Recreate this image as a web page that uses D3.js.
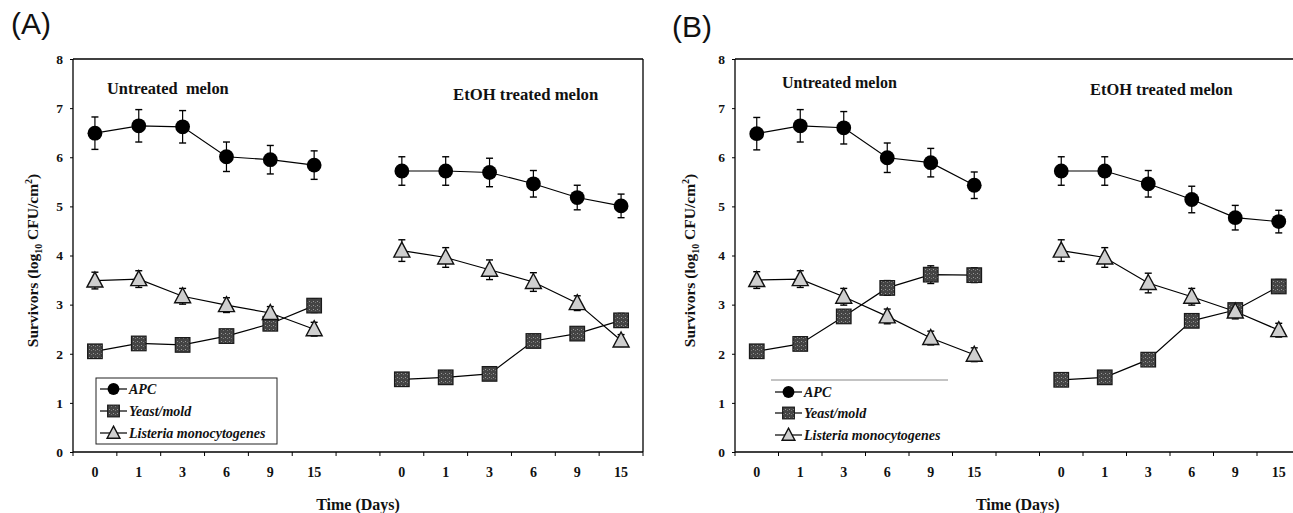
<!DOCTYPE html>
<head>
  <meta charset="utf-8">
  <script src="https://d3js.org/d3.v7.min.js"></script>
  <style>
    body { margin: 0; background: #fff; }
    svg { display: block; }
    text { font-family: "Liberation Serif", "Times New Roman", serif; font-weight: bold; fill: #111; }
  </style>
</head>
<body>
  <svg width="1293" height="513"></svg>
  <script>
    // data
    var days = ["0", "1", "3", "6", "9", "15"];
    var treatments = ["Untreated melon", "EtOH treated melon"];
    var seriesNames = ["APC", "Yeast/mold", "Listeria monocytogenes"];

    // panel A
    var apcA_untr = [6.49, 6.64, 6.62, 6.01, 5.95, 5.84];
    var apcA_untrErr = [0.33, 0.33, 0.33, 0.30, 0.29, 0.29];
    var apcA_etoh = [5.72, 5.72, 5.69, 5.46, 5.18, 5.01];
    var apcA_etohErr = [0.29, 0.29, 0.29, 0.27, 0.25, 0.24];
    var yeastA_untr = [2.05, 2.21, 2.18, 2.36, 2.61, 2.98];
    var yeastA_untrErr = [0.10, 0.10, 0.10, 0.12, 0.12, 0.14];
    var yeastA_etoh = [1.48, 1.52, 1.59, 2.26, 2.41, 2.68];
    var yeastA_etohErr = [0.08, 0.08, 0.08, 0.12, 0.12, 0.14];
    var listA_untr = [3.49, 3.52, 3.17, 2.99, 2.83, 2.50];
    var listA_untrErr = [0.17, 0.17, 0.16, 0.15, 0.13, 0.14];
    var listA_etoh = [4.10, 3.96, 3.71, 3.46, 3.03, 2.27];
    var listA_etohErr = [0.22, 0.20, 0.20, 0.19, 0.15, 0.12];

    // panel B
    var apcB_untr = [6.48, 6.64, 6.60, 5.99, 5.89, 5.43];
    var apcB_untrErr = [0.33, 0.33, 0.33, 0.30, 0.29, 0.27];
    var apcB_etoh = [5.72, 5.72, 5.46, 5.14, 4.77, 4.69];
    var apcB_etohErr = [0.29, 0.29, 0.27, 0.27, 0.25, 0.23];
    var yeastB_untr = [2.05, 2.20, 2.76, 3.34, 3.61, 3.60];
    var yeastB_untrErr = [0.10, 0.10, 0.12, 0.15, 0.18, 0.15];
    var yeastB_etoh = [1.47, 1.52, 1.88, 2.67, 2.89, 3.37];
    var yeastB_etohErr = [0.08, 0.08, 0.10, 0.12, 0.12, 0.14];
    var listB_untr = [3.50, 3.52, 3.16, 2.76, 2.32, 1.98];
    var listB_untrErr = [0.17, 0.17, 0.17, 0.15, 0.14, 0.14];
    var listB_etoh = [4.10, 3.96, 3.44, 3.16, 2.86, 2.48];
    var listB_etohErr = [0.22, 0.20, 0.20, 0.17, 0.15, 0.14];

    var yTicks = [0, 1, 2, 3, 4, 5, 6, 7, 8];

    // options
    var plotTop = 59, plotBottom = 452;
    var panels = [
      { label: "(A)", lx: 11, ly: 34, left: 73, right: 643, ytx: 38,
        titles: [[107, 94, 16.4, "Untreated\u00a0 melon"], [453, 100, 16.7, treatments[1]]],
        legend: { x: 96, y: 378, w: 181, h: 66, rows: [389, 411, 433], lx0: 100, lx1: 127, mx: 113.5, tx: 129, boxed: true },
        series: [
          [[apcA_untr, apcA_untrErr], [apcA_etoh, apcA_etohErr]],
          [[yeastA_untr, yeastA_untrErr], [yeastA_etoh, yeastA_etohErr]],
          [[listA_untr, listA_untrErr], [listA_etoh, listA_etohErr]]
        ] },
      { label: "(B)", lx: 672, ly: 37, left: 735, right: 1300.5, ytx: 695,
        titles: [[782, 88, 16, treatments[0]], [1090, 95, 16.4, treatments[1]]],
        legend: { x: 771, y: 380, w: 177, h: 0, rows: [392, 413, 435], lx0: 775, lx1: 802, mx: 788.5, tx: 804, boxed: false },
        series: [
          [[apcB_untr, apcB_untrErr], [apcB_etoh, apcB_etohErr]],
          [[yeastB_untr, yeastB_untrErr], [yeastB_etoh, yeastB_etohErr]],
          [[listB_untr, listB_untrErr], [listB_etoh, listB_etohErr]]
        ] }
    ];

    var svg = d3.select('svg');

    var defs = svg.append('defs');
    var pat = defs.append('pattern').attr('id', 'speck').attr('width', 4).attr('height', 4)
      .attr('patternUnits', 'userSpaceOnUse');
    pat.append('rect').attr('width', 4).attr('height', 4).attr('fill', '#444');
    pat.append('rect').attr('x', 1).attr('y', 1).attr('width', 1).attr('height', 1).attr('fill', '#9a9a9a');
    pat.append('rect').attr('x', 3).attr('y', 2).attr('width', 1).attr('height', 1).attr('fill', '#777');

    function marker(sel, type, cx, cy, s) {
      if (type === 0) {
        sel.append('circle').attr('cx', cx).attr('cy', cy).attr('r', 7.4 * s).attr('fill', '#000');
      } else if (type === 1) {
        var h = 7.3 * s;
        sel.append('rect').attr('x', cx - h).attr('y', cy - h).attr('width', 2 * h).attr('height', 2 * h)
          .attr('fill', 'url(#speck)').attr('stroke', '#1a1a1a').attr('stroke-width', 1.2);
      } else {
        var w = 8 * s, t = 8.5 * s, b = 6.5 * s;
        sel.append('path').attr('d', 'M' + cx + ',' + (cy - t) + 'L' + (cx + w) + ',' + (cy + b) + 'L' + (cx - w) + ',' + (cy + b) + 'Z')
          .attr('fill', '#cfcfcf').attr('stroke', '#111').attr('stroke-width', 1.4);
      }
    }

    panels.forEach(function(p) {
      var g = svg.append('g');
      var domain = days.map(function(d) { return 'u' + d; }).concat(['gap'])
        .concat(days.map(function(d) { return 'e' + d; }));
      var x = d3.scaleBand().domain(domain).range([p.left, p.right]);
      var y = d3.scaleLinear().domain([0, 8]).range([plotBottom, plotTop]);

      // panel letter
      g.append('text').attr('x', p.lx).attr('y', p.ly)
        .style('font-family', '"Liberation Sans", Arial, sans-serif').style('font-weight', 'normal')
        .style('font-size', '30px').text(p.label);

      // y axis
      var ya = g.append('g').attr('transform', 'translate(' + p.left + ',0)')
        .call(d3.axisLeft(y).tickValues(yTicks).tickSize(3).tickPadding(7).tickFormat(d3.format('d')));
      ya.select('.domain').remove();
      ya.selectAll('text').style('font-size', '13.5px').style('font-family', '"Liberation Serif", serif');

      // x labels
      var xa = g.append('g').attr('transform', 'translate(0,' + plotBottom + ')')
        .call(d3.axisBottom(x).tickSize(0).tickPadding(15)
          .tickFormat(function(k) { return k === 'gap' ? '' : k.slice(1); }));
      xa.select('.domain').remove();
      xa.selectAll('text').style('font-size', '14px').style('font-family', '"Liberation Serif", serif');

      // boundary ticks
      var bounds = domain.map(function(k) { return x(k); }).concat([x(domain[domain.length - 1]) + x.bandwidth()]);
      g.selectAll('.bt').data(bounds).enter().append('line')
        .attr('x1', function(d) { return d; }).attr('x2', function(d) { return d; })
        .attr('y1', plotBottom).attr('y2', plotBottom + 4).attr('stroke', '#000');

      // frame
      g.append('line').attr('x1', p.left).attr('x2', p.left).attr('y1', plotTop).attr('y2', plotBottom).attr('stroke', '#000').attr('stroke-width', 1.3);
      g.append('line').attr('x1', p.left).attr('x2', p.right).attr('y1', plotBottom).attr('y2', plotBottom).attr('stroke', '#000').attr('stroke-width', 1.3);
      g.append('line').attr('x1', p.left).attr('x2', p.right).attr('y1', plotTop).attr('y2', plotTop).attr('stroke', '#000').attr('stroke-width', 1.3);
      g.append('line').attr('x1', p.right).attr('x2', p.right).attr('y1', plotTop).attr('y2', plotBottom).attr('stroke', '#000').attr('stroke-width', 1.3);

      // y title
      var yt = g.append('text').attr('transform', 'translate(' + p.ytx + ',' + ((plotTop + plotBottom) / 2 + 5) + ') rotate(-90)')
        .attr('text-anchor', 'middle').style('font-size', '15.5px');
      yt.append('tspan').text('Survivors (log');
      yt.append('tspan').attr('dy', 4).style('font-size', '10px').text('10');
      yt.append('tspan').attr('dy', -4).text(' CFU/cm');
      yt.append('tspan').attr('dy', -6).style('font-size', '10px').text('2');
      yt.append('tspan').attr('dy', 6).text(')');

      // x title
      g.append('text').attr('x', (p.left + p.right) / 2).attr('y', 510).attr('text-anchor', 'middle')
        .style('font-size', '16px').text('Time (Days)');

      // treatment titles
      p.titles.forEach(function(t) {
        g.append('text').attr('x', t[0]).attr('y', t[1]).style('font-size', t[2] + 'px').text(t[3]);
      });

      // lines
      var line = d3.line().x(function(d) { return d[0]; }).y(function(d) { return d[1]; });
      var pre = ['u', 'e'];
      p.series.forEach(function(s) {
        s.forEach(function(grp, gi) {
          var pts = grp[0].map(function(v, i) { return [x(pre[gi] + days[i]) + x.bandwidth() / 2, y(v)]; });
          g.append('path').attr('d', line(pts)).attr('fill', 'none').attr('stroke', '#000').attr('stroke-width', 1.2);
        });
      });
      // error bars
      p.series.forEach(function(s) {
        s.forEach(function(grp, gi) {
          grp[0].forEach(function(v, i) {
            var cx = x(pre[gi] + days[i]) + x.bandwidth() / 2;
            var e = grp[1][i];
            var y0 = y(v + e), y1 = y(v - e);
            g.append('line').attr('x1', cx).attr('x2', cx).attr('y1', y0).attr('y2', y1).attr('stroke', '#000').attr('stroke-width', 1.2);
            [y0, y1].forEach(function(yy) {
              g.append('line').attr('x1', cx - 3.5).attr('x2', cx + 3.5).attr('y1', yy).attr('y2', yy).attr('stroke', '#000').attr('stroke-width', 1.4);
            });
          });
        });
      });
      // markers
      p.series.forEach(function(s, si) {
        s.forEach(function(grp, gi) {
          grp[0].forEach(function(v, i) {
            marker(g, si, x(pre[gi] + days[i]) + x.bandwidth() / 2, y(v), 1);
          });
        });
      });

      // legend
      var L = p.legend;
      if (L.boxed) {
        g.append('rect').attr('x', L.x).attr('y', L.y).attr('width', L.w).attr('height', L.h)
          .attr('fill', '#fff').attr('stroke', '#222').attr('stroke-width', 1);
      } else {
        g.append('line').attr('x1', L.x).attr('x2', L.x + L.w).attr('y1', L.y).attr('y2', L.y)
          .attr('stroke', '#888').attr('stroke-width', 1);
      }
      seriesNames.forEach(function(n, si) {
        var ry = L.rows[si];
        g.append('line').attr('x1', L.lx0).attr('x2', L.lx1).attr('y1', ry).attr('y2', ry).attr('stroke', '#000').attr('stroke-width', 1.2);
        marker(g, si, L.mx, ry, 0.8);
        g.append('text').attr('x', L.tx).attr('y', ry + 5).style('font-size', '14px').style('font-style', 'italic').text(n);
      });
    });
  </script>
</body>
